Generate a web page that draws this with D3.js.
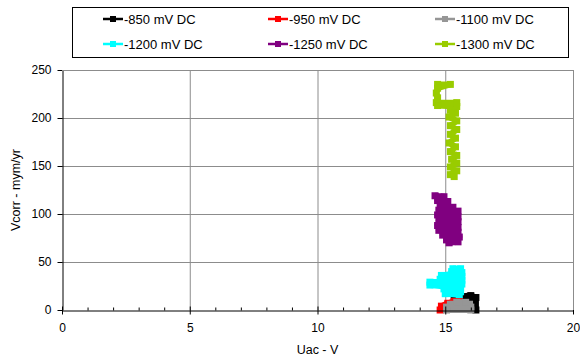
<!DOCTYPE html>
<html>
<head>
<meta charset="utf-8">
<script src="https://cdn.jsdelivr.net/npm/d3@7"></script>
<style>
  html, body { margin: 0; padding: 0; background: #fff; }
  svg { display: block; font-family: "Liberation Sans", Arial, sans-serif; }
</style>
</head>
<body>
<svg id="chart" width="580" height="360"></svg>
<script>
// Series: Uac (V) against corrosion rate (mym/yr), one per DC potential
const seriesNames = ["-850 mV DC", "-950 mV DC", "-1100 mV DC", "-1200 mV DC", "-1250 mV DC", "-1300 mV DC"];
const seriesColors = ["#000000", "#ff0000", "#969696", "#00ffff", "#800080", "#99cc00"];

const uac850 = [15.35, 15.6, 16.0, 16.2, 16.2, 16.1, 15.7, 16.15, 15.9];
const vcorr850 = [10, 14, 15, 13, 0, 8, 12, 5, 3];

const uac950 = [14.8, 14.85, 15.1, 15.35, 15.55, 15.1, 14.95];
const vcorr950 = [0, 4, 7, 9, 9.5, 5, 2];

const uac1100 = [15.05, 16.0, 15.05, 16.0, 15.2, 15.95, 15.45, 15.8];
const vcorr1100 = [0, 0, 3, 3, 6, 6, 8, 8];

const uac1200 = [15.3, 15.6, 15.25, 15.65, 14.85, 15.65, 14.8, 15.65, 14.4, 15.65, 14.4, 15.6, 14.95, 15.6, 15.0, 15.55];
const vcorr1200 = [43, 43, 40, 39, 36, 35, 32, 31, 29, 27, 26, 23, 22, 19, 17, 16];

const uac1250 = [14.6, 14.95, 14.7, 15.1, 14.8, 15.3, 14.75, 15.5, 14.7, 15.5, 14.75, 15.5, 14.7, 15.5, 14.75, 15.5, 14.9, 15.55, 15.05, 15.5, 15.15];
const vcorr1250 = [119, 118, 114, 113, 109, 107, 104, 103, 99, 97, 93, 92, 88, 86, 83, 81, 78, 76, 73, 71, 70];

const uac1300 = [14.7, 15.2, 14.7, 14.65, 14.7, 14.65, 15.45, 14.7, 15.45, 15.2, 15.4, 15.15, 15.45, 15.2, 15.45, 15.2, 15.4, 15.15, 15.4, 15.2, 15.45, 15.25, 15.45, 15.2, 15.45, 15.2, 15.35];
const vcorr1300 = [235, 235, 231, 226, 221, 216, 216, 213, 212, 208, 205, 201, 197, 192, 188, 183, 179, 174, 170, 165, 161, 157, 153, 149, 145, 141, 139];

const xTicks = [0, 5, 10, 15, 20];
const yTicks = [0, 50, 100, 150, 200, 250];

const seriesX = [uac850, uac950, uac1100, uac1200, uac1250, uac1300];
const seriesY = [vcorr850, vcorr950, vcorr1100, vcorr1200, vcorr1250, vcorr1300];
const series = seriesNames.map((name, i) => ({
  name, color: seriesColors[i],
  points: seriesX[i].map((x, j) => ({ x, y: seriesY[i][j] }))
}));

const svg = d3.select("#chart");
const margin = { left: 62, right: 7, top: 70, bottom: 50 };
const W = 580, H = 360;
const x = d3.scaleLinear().domain([0, 20]).range([margin.left, W - margin.right]);
const y = d3.scaleLinear().domain([0, 250]).range([H - margin.bottom, margin.top]);

const grid = "#8c8c8c";
// Gridlines
svg.append("g").selectAll("line").data(xTicks.slice(1))
  .join("line")
  .attr("x1", d => x(d) + 0.5).attr("x2", d => x(d) + 0.5)
  .attr("y1", y(250)).attr("y2", y(0))
  .attr("stroke", grid).attr("stroke-width", 1);
svg.append("g").selectAll("line").data(yTicks.slice(1))
  .join("line")
  .attr("x1", x(0)).attr("x2", x(20))
  .attr("y1", d => y(d) + 0.5).attr("y2", d => y(d) + 0.5)
  .attr("stroke", grid).attr("stroke-width", 1);

// Series lines and square markers
const line = d3.line().x(d => x(d.x)).y(d => y(d.y));
const plot = svg.append("g");
series.forEach(s => {
  plot.append("path")
    .attr("d", line(s.points))
    .attr("fill", "none")
    .attr("stroke", s.color)
    .attr("stroke-width", 6)
    .attr("stroke-linejoin", "round");
  plot.append("g").selectAll("rect").data(s.points)
    .join("rect")
    .attr("x", d => x(d.x) - 3.5).attr("y", d => y(d.y) - 3.5)
    .attr("width", 7).attr("height", 7)
    .attr("fill", s.color);
});

// Axes
const xAxis = d3.axisBottom(x).tickValues(xTicks).tickSize(0).tickPadding(13);
const gx = svg.append("g").attr("transform", `translate(0,${y(0) + 0.5})`).call(xAxis);
gx.select(".domain").attr("stroke", "#000");
gx.selectAll("text").attr("font-size", 12).attr("fill", "#000")
  .attr("font-family", "Liberation Sans, Arial, sans-serif");
// Major ticks crossing the axis, minor ticks every volt
gx.append("g").selectAll("line").data(xTicks).join("line")
  .attr("x1", d => x(d) + 0.5).attr("x2", d => x(d) + 0.5)
  .attr("y1", -4).attr("y2", 4).attr("stroke", "#000");
gx.append("g").selectAll("line").data(d3.range(1, 20).filter(v => v % 5 !== 0)).join("line")
  .attr("x1", d => x(d) + 0.5).attr("x2", d => x(d) + 0.5)
  .attr("y1", -3).attr("y2", 0).attr("stroke", "#000");

const yAxis = d3.axisLeft(y).tickValues(yTicks).tickSize(0).tickPadding(11);
const gy = svg.append("g").attr("transform", `translate(${x(0) + 0.5},0)`).call(yAxis);
gy.select(".domain").attr("stroke", "#000");
gy.selectAll("text").attr("font-size", 12).attr("fill", "#000")
  .attr("font-family", "Liberation Sans, Arial, sans-serif");
gy.append("g").selectAll("line").data(yTicks).join("line")
  .attr("x1", -5).attr("x2", 0)
  .attr("y1", d => y(d) + 0.5).attr("y2", d => y(d) + 0.5).attr("stroke", "#000");

// Plot-area frame (top and right)
svg.append("path")
  .attr("d", `M${x(0)},${y(250) + 0.5}H${x(20) + 0.5}V${y(0)}`)
  .attr("fill", "none").attr("stroke", grid);

// Axis titles
svg.append("text").attr("x", (x(0) + x(20)) / 2).attr("y", 354)
  .attr("text-anchor", "middle").attr("font-size", 12.5).text("Uac - V");
svg.append("text").attr("transform", `translate(20,${(y(0) + y(250)) / 2}) rotate(-90)`)
  .attr("text-anchor", "middle").attr("font-size", 12.5).text("Vcorr - mym/yr");

// Legend
const lg = svg.append("g");
lg.append("rect").attr("x", 72.5).attr("y", 7.5).attr("width", 496).attr("height", 50)
  .attr("fill", "#fff").attr("stroke", "#000");
const colX = [103, 268, 435];
const rowY = [19, 44];
series.forEach((s, i) => {
  const cx = colX[i % 3], cy = rowY[Math.floor(i / 3)];
  lg.append("line").attr("x1", cx).attr("x2", cx + 20).attr("y1", cy).attr("y2", cy)
    .attr("stroke", s.color).attr("stroke-width", 2.5);
  lg.append("rect").attr("x", cx + 7).attr("y", cy - 3).attr("width", 6).attr("height", 6)
    .attr("fill", s.color);
  lg.append("text").attr("x", cx + 21).attr("y", cy + 5).attr("font-size", 13)
    .text(s.name);
});
</script>
</body>
</html>
